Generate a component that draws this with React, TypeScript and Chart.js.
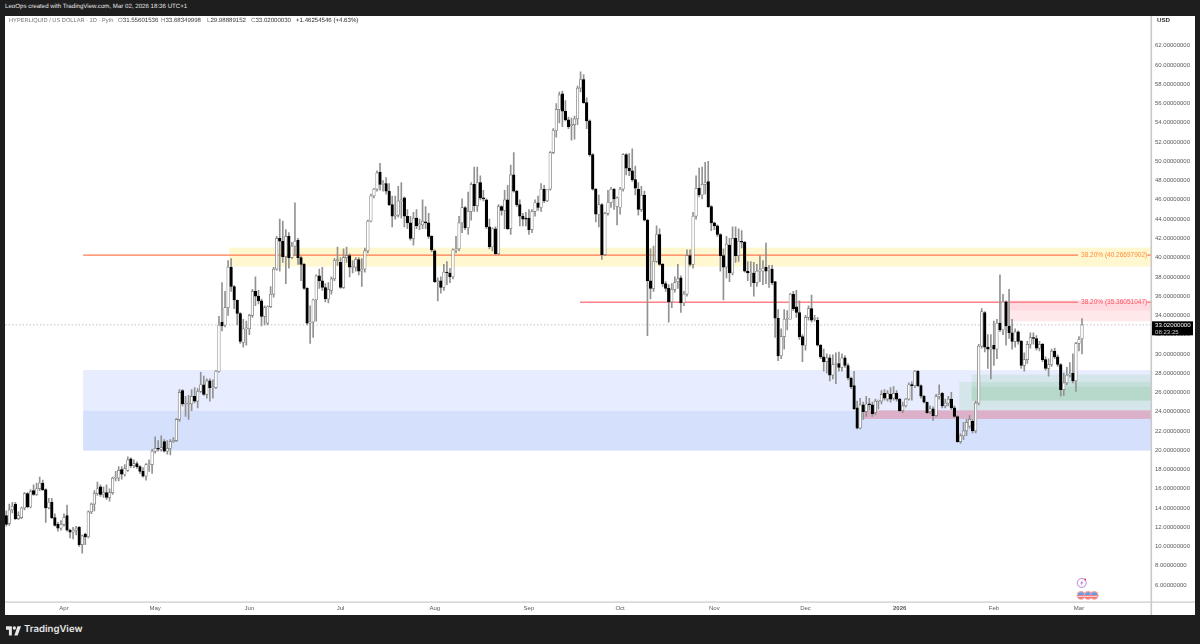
import { useEffect, useRef } from "react"
import { Chart, registerables } from "chart.js"

Chart.register(...registerables)

// daily candles, index 0 = 13 Mar 2025, last = 2 Mar 2026
const opens = [
  13.2,12.4,13.8,14.4,12.9,13.0,14.0,15.5,14.1,15.8,
  15.4,16.0,16.6,15.9,14.0,14.6,13.0,12.3,11.9,12.3,
  13.2,11.7,11.5,11.7,12.0,10.2,11.3,11.0,13.6,14.4,
  15.5,16.2,15.4,15.6,15.1,15.6,17.1,17.1,18.0,17.5,
  17.9,19.1,18.4,18.6,18.3,17.8,17.3,18.5,18.5,19.9,
  20.2,20.1,20.9,19.9,20.2,20.9,21.0,23.2,26.2,24.8,
  24.8,24.8,25.6,25.1,26.1,26.8,25.8,27.2,26.5,26.5,
  28.2,33.3,33.0,34.8,39.0,37.0,35.6,34.2,31.2,32.6,
  32.6,34.0,36.5,36.0,35.5,33.9,33.2,34.9,36.2,38.8,
  42.0,41.7,40.1,42.2,40.0,41.2,41.8,40.0,39.3,36.8,
  33.2,33.3,35.6,38.1,37.6,36.9,35.7,36.6,37.8,39.7,
  39.5,36.9,40.0,40.2,39.0,39.0,39.8,38.6,38.8,40.7,
  43.8,46.4,47.1,48.85,47.6,47.7,46.9,45.5,44.3,44.4,
  45.9,46.2,44.3,43.6,42.0,44.1,43.4,43.4,43.7,43.6,
  42.2,40.7,37.5,37.6,36.9,38.5,38.4,38.0,40.8,40.9,
  43.6,45.2,43.1,44.8,47.6,45.4,47.8,46.2,46.0,43.2,
  41.1,43.0,40.4,45.3,44.9,46.0,43.0,48.6,46.9,45.5,
  44.3,44.1,44.1,42.9,44.8,45.7,45.2,47.1,45.9,47.1,
  50.9,53.2,55.4,57.0,55.2,54.3,53.7,53.8,54.4,57.6,
  58.5,56.1,54.2,50.7,47.1,44.5,45.5,40.3,44.6,45.7,
  47.1,45.3,45.2,47.1,50.7,49.3,49.0,48.1,47.1,45.0,
  46.5,43.9,37.6,36.8,39.6,42.4,39.3,37.3,36.8,35.4,
  36.7,37.5,37.9,35.3,36.2,40.2,39.3,44.3,47.2,46.5,
  47.6,47.9,45.3,43.6,43.3,42.4,40.2,39.0,41.3,38.4,
  42.0,40.2,41.7,41.6,38.6,38.4,38.4,37.4,38.6,38.6,
  39.0,38.7,38.8,37.5,33.7,29.8,31.8,33.6,33.6,36.2,
  34.9,34.3,31.8,30.9,33.8,34.7,33.6,33.5,30.9,29.7,
  29.2,29.6,27.8,28.9,29.0,28.6,29.6,28.8,27.5,26.7,
  24.4,22.3,24.7,24.0,24.8,24.7,23.9,25.1,25.1,25.9,
  25.3,25.8,25.4,25.9,25.3,24.1,24.6,25.3,26.8,26.7,
  28.2,26.7,25.6,25.0,24.0,24.3,23.6,25.6,25.9,24.6,
  24.9,25.3,24.4,23.5,20.9,21.5,22.0,22.5,23.0,22.0,
  24.9,30.8,34.3,30.7,30.5,30.9,30.5,33.2,32.5,35.4,
  32.9,32.2,31.3,32.3,31.3,28.8,29.4,31.0,31.7,31.6,
  30.6,31.0,29.4,28.5,28.9,30.3,29.7,28.9,26.3,27.0,
  27.8,28.0,27.2,31.1,31.56,
]
const highs = [
  13.7,14.4,14.6,14.6,13.6,14.1,15.6,15.6,15.9,16.4,
  16.6,17.2,16.9,16.0,15.0,15.0,13.4,12.5,12.7,13.4,
  14.3,11.8,12.0,12.1,12.1,11.2,11.4,13.7,14.5,15.8,
  16.7,16.4,16.2,16.4,16.0,17.2,17.8,18.3,18.3,18.5,
  19.3,19.2,19.0,18.8,18.4,18.2,18.6,19.0,20.1,21.4,
  21.0,21.5,21.1,21.0,21.1,21.3,23.3,26.3,26.3,25.6,
  25.7,26.3,26.5,26.4,28.1,27.7,27.4,27.4,27.3,28.3,
  33.9,37.4,36.5,39.7,39.9,37.1,35.6,34.3,33.6,33.4,
  34.1,36.7,38.0,36.6,35.7,35.0,35.0,37.0,39.0,42.2,
  44.0,43.8,42.9,42.6,41.6,45.7,42.0,40.1,39.4,36.9,
  35.0,35.7,38.2,38.8,39.0,37.3,37.4,38.0,39.9,41.1,
  40.0,40.9,41.1,40.4,39.7,40.0,40.0,39.9,41.0,43.9,
  46.6,47.2,49.0,49.8,48.0,48.3,47.7,46.4,46.4,47.4,
  47.8,46.3,45.0,44.3,44.7,45.0,44.0,46.0,45.3,44.6,
  42.3,40.8,37.9,38.0,39.3,39.6,38.9,40.9,42.2,44.3,
  46.1,45.3,46.8,47.8,49.4,49.4,48.5,47.0,46.1,44.0,
  43.1,43.2,45.5,45.4,47.0,47.5,49.6,50.9,47.0,46.0,
  44.6,44.7,45.0,45.0,46.0,46.4,47.7,47.5,47.1,51.0,
  53.4,56.0,57.2,57.3,56.3,54.6,54.5,54.7,57.8,59.3,
  59.0,56.6,54.3,50.8,47.2,46.5,45.6,44.7,47.0,47.3,
  47.2,46.3,47.3,50.8,50.8,50.8,51.3,49.5,47.8,47.4,
  46.9,44.0,40.9,41.2,43.3,43.0,39.4,37.5,37.2,37.3,
  38.0,39.3,38.1,36.5,40.8,40.8,44.7,48.5,49.3,49.4,
  49.9,50.0,45.4,43.7,43.4,42.5,40.9,42.2,42.0,43.2,
  43.2,43.0,42.8,41.7,39.6,39.6,39.5,39.3,40.2,39.7,
  41.5,39.2,39.2,37.5,34.6,32.6,34.6,34.5,36.3,36.5,
  36.6,35.5,32.0,34.0,35.0,36.1,34.0,33.8,31.0,30.5,
  30.0,29.9,29.9,30.1,30.2,30.0,29.8,29.0,27.6,28.2,
  25.1,25.4,25.0,25.6,25.4,25.0,25.3,25.2,26.2,26.3,
  26.2,26.5,26.6,26.2,25.4,25.0,25.4,27.0,27.1,28.3,
  28.3,26.8,25.7,25.0,24.6,24.5,25.8,26.8,26.0,25.3,
  25.6,26.0,24.6,23.6,21.7,22.9,23.2,23.6,23.2,25.1,
  31.0,34.7,34.4,32.0,32.0,33.4,33.6,38.2,36.2,35.5,
  36.7,33.6,32.6,32.4,31.4,30.1,31.3,32.2,32.2,31.9,
  31.3,31.1,29.7,29.5,30.5,30.6,29.9,29.0,28.0,28.6,
  29.1,30.0,31.2,31.8,33.68,
]
const lows = [
  12.1,12.2,13.5,12.8,12.8,12.9,13.8,14.0,14.0,15.3,
  15.3,15.8,15.8,12.5,13.9,12.9,12.1,11.6,11.7,12.1,
  11.6,10.9,10.8,11.2,10.0,9.3,10.2,10.9,13.4,13.7,
  15.3,15.2,15.1,14.9,14.7,15.4,16.8,16.8,17.0,17.3,
  17.8,18.2,18.2,18.1,17.6,17.2,16.9,17.8,17.6,19.7,
  19.9,19.9,19.8,19.6,19.5,20.8,20.9,23.0,24.6,23.5,
  23.2,24.1,24.9,24.4,26.0,25.7,25.4,25.1,25.4,26.4,
  28.1,32.4,32.8,34.0,36.5,34.7,33.0,31.1,30.7,30.9,
  32.0,33.8,35.0,35.2,32.9,33.0,33.0,34.8,35.9,38.7,
  38.6,39.5,37.3,38.9,39.9,40.2,39.3,37.6,36.7,33.0,
  31.1,31.7,33.4,36.8,36.6,35.4,35.3,36.2,37.6,39.2,
  36.8,36.8,39.5,38.0,38.4,38.6,38.2,37.0,38.5,40.5,
  43.7,46.2,46.9,47.0,46.9,46.6,45.4,43.2,44.0,44.2,
  44.1,43.2,43.0,41.8,41.3,43.0,42.9,43.0,43.0,42.0,
  40.6,37.4,35.5,36.3,36.6,37.2,37.4,37.8,40.5,40.7,
  42.6,42.9,42.4,43.9,44.8,44.8,46.0,45.9,43.0,40.9,
  40.7,40.3,40.3,44.4,43.0,42.9,42.4,46.8,45.3,43.3,
  43.3,43.3,42.4,42.6,44.3,44.9,44.8,45.7,45.8,47.0,
  50.8,52.5,54.0,53.6,54.2,53.4,52.2,52.3,53.8,57.2,
  56.0,53.4,50.5,47.0,43.7,43.2,39.8,40.2,44.4,45.2,
  45.0,43.4,44.5,46.9,48.6,48.5,47.9,46.5,44.4,44.8,
  43.8,31.9,35.7,36.5,39.5,39.2,37.0,36.5,33.3,34.8,
  36.4,36.8,34.3,35.0,36.0,39.1,38.9,44.0,46.3,46.1,
  46.6,45.2,42.8,42.9,42.2,38.6,35.6,37.9,37.5,38.2,
  39.5,39.6,41.0,38.5,37.6,37.0,36.0,37.0,37.5,37.2,
  37.3,36.9,37.2,31.7,29.3,29.5,30.5,32.5,33.6,34.5,
  33.8,31.5,29.2,30.4,33.5,33.3,33.4,30.8,29.5,28.2,
  28.0,27.2,27.4,26.9,28.2,28.2,28.6,27.3,26.4,24.2,
  22.2,22.2,23.2,23.5,24.2,23.5,23.7,24.3,24.8,25.2,
  25.1,25.0,25.2,25.1,24.0,23.9,24.5,25.2,25.2,26.5,
  26.6,25.4,24.9,23.8,23.8,23.1,23.5,25.3,24.4,24.4,
  24.6,24.2,23.4,20.8,20.7,21.1,21.5,22.3,21.8,21.8,
  24.7,30.6,30.2,28.5,27.4,28.8,29.5,32.3,32.0,30.9,
  31.6,30.5,30.7,31.0,28.5,28.2,29.0,30.6,31.0,30.4,
  30.3,29.2,28.3,27.7,28.7,29.5,28.7,25.6,25.7,26.8,
  27.6,27.0,26.1,30.3,29.99,
]
const closes = [
  12.3,13.8,14.2,12.9,13.2,14.0,15.5,14.1,15.7,15.4,
  16.0,16.6,15.9,14.0,14.6,13.0,12.2,11.9,12.3,13.0,
  11.7,11.5,11.7,11.9,10.2,11.1,11.0,13.6,14.4,15.5,
  16.0,15.4,15.6,15.1,15.6,17.1,17.1,17.9,17.5,18.1,
  19.0,18.4,18.6,18.3,17.8,17.3,18.5,18.6,19.9,20.2,
  20.1,20.3,19.9,20.2,20.9,21.0,23.2,26.0,24.8,24.8,
  24.8,25.6,25.1,26.1,26.8,25.8,27.2,26.5,26.5,28.2,
  33.0,32.9,34.8,39.0,37.0,35.6,34.2,31.3,32.6,32.6,
  34.0,36.5,36.0,35.5,33.9,34.8,34.9,36.2,38.8,42.0,
  41.7,40.1,42.2,40.0,41.2,41.7,40.0,39.3,36.8,33.2,
  33.3,35.6,38.1,37.6,36.9,35.7,36.7,37.8,39.7,39.8,
  36.9,40.0,40.2,39.0,39.1,39.8,38.6,38.8,40.7,43.8,
  46.4,47.1,48.8,47.6,47.7,46.9,45.5,44.3,44.4,45.9,
  45.9,44.3,43.6,42.0,44.1,43.3,43.4,43.8,43.6,42.2,
  40.8,37.5,37.5,36.9,38.5,38.4,38.0,40.8,40.9,43.6,
  45.2,43.1,44.8,47.6,45.4,47.8,46.2,46.1,43.2,41.1,
  43.0,40.4,45.3,44.9,46.0,43.0,48.6,46.9,45.5,44.3,
  44.0,44.0,42.9,44.8,45.7,45.2,47.1,45.9,47.1,50.9,
  53.2,55.4,56.9,55.2,54.3,53.6,53.8,54.4,57.6,58.5,
  56.1,54.2,50.7,47.1,44.5,45.5,40.3,44.6,45.7,47.1,
  46.1,46.2,47.1,50.7,49.3,49.0,48.1,47.2,45.0,46.5,
  43.9,37.6,36.8,39.6,42.4,39.3,37.3,36.8,35.4,36.7,
  37.4,37.8,35.3,36.2,40.2,39.3,44.3,47.2,46.5,47.6,
  47.8,45.3,43.6,43.3,42.4,40.2,39.0,41.4,38.4,42.0,
  40.2,41.7,41.6,38.6,38.4,38.5,37.4,38.6,38.6,38.9,
  38.6,38.8,37.4,33.7,29.8,31.8,33.6,33.6,36.2,34.7,
  34.3,31.8,30.9,33.8,34.7,33.5,33.6,30.9,29.7,29.2,
  29.6,27.8,28.9,29.0,28.6,29.6,28.8,27.5,26.6,24.3,
  22.3,24.7,24.0,24.8,24.7,23.8,25.1,25.1,25.8,25.4,
  25.9,25.3,25.9,25.3,24.1,24.6,25.3,26.8,26.7,28.2,
  26.7,25.6,25.0,23.9,24.3,23.6,25.6,25.8,24.6,24.9,
  25.3,24.4,23.5,20.9,21.5,22.0,22.9,23.2,22.0,24.9,
  30.8,34.4,30.7,30.5,30.7,30.5,33.2,32.5,35.4,32.9,
  32.2,31.3,32.3,31.3,28.8,29.4,31.0,31.7,31.6,30.6,
  31.0,29.4,28.5,28.9,30.3,29.7,28.9,26.3,27.0,27.8,
  27.9,27.2,31.1,31.5,33.02,
]

const priceTicks = [6, 8, 10, 12, 14, 16, 18, 20, 22, 24, 26, 28, 30, 32, 34, 36, 38, 40, 42, 44, 46, 48, 50, 52, 54, 56, 58, 60, 62]
const monthDays = [19, 49, 80, 110, 141, 172, 202, 233, 263, 294, 325, 353]
const monthNames = ["Apr", "May", "Jun", "Jul", "Aug", "Sep", "Oct", "Nov", "Dec", "2026", "Feb", "Mar"]

const lastPrice = 33.02
const dayMin = -0.41
const dayMax = 376.7
const priceMin = 4.29
const priceMax = 65.09

// boxes on the chart: first day, low, high, colour
const zones = [
  { from: 25.3, low: 24.11, high: 28.32, color: "#e7edfe" },
  { from: 25.3, low: 19.96, high: 24.11, color: "#d4e0fc" },
  { from: 73.4, low: 39.07, high: 41.04, color: "#fff7cf" },
  { from: 328, low: 33.39, high: 35.53, color: "#ffe8ea" },
  { from: 330, low: 34.5, high: 35.53, color: "rgba(255,170,180,0.22)" },
  { from: 313.6, low: 24.1, high: 27.1, color: "rgba(70,170,80,0.11)" },
  { from: 317.7, low: 25.15, high: 27.85, color: "rgba(70,170,80,0.11)" },
  { from: 317.7, low: 25.15, high: 26.6, color: "rgba(70,170,80,0.11)" },
  { from: 282, low: 23.25, high: 24.14, color: "#dcb0c8" },
]

const levels = [
  { from: 25.3, to: 352.7, price: 40.26697902, text: "38.20% (40.26697902)", color: "#ff7a50", textColor: "#ff8c3a", width: 1.2 },
  { from: 188.8, to: 352.7, price: 35.36051047, text: "38.20% (35.36051047)", color: "#ff8088", textColor: "#ff4d5e", width: 1.4 },
]

const ohlcLegend = [
  { key: "O", value: "31.55601536", left: 118 },
  { key: "H", value: "33.68349998", left: 161 },
  { key: "L", value: "29.98889152", left: 207 },
  { key: "C", value: "33.02000030", left: 251 },
]

const sans = "'Liberation Sans', Arial, sans-serif"

const overlay = {
  id: "overlay",
  beforeDatasetsDraw(chart: any) {
    const { ctx, chartArea, scales } = chart
    ctx.save()
    ctx.beginPath()
    ctx.rect(chartArea.left, chartArea.top, chartArea.right - chartArea.left, chartArea.bottom - chartArea.top)
    ctx.clip()
    zones.forEach((z) => {
      const x = scales.x.getPixelForValue(z.from)
      const top = scales.y.getPixelForValue(z.high)
      const bottom = scales.y.getPixelForValue(z.low)
      ctx.fillStyle = z.color
      ctx.fillRect(x, top, chartArea.right - x, bottom - top)
    })
    ctx.restore()
  },
  afterDraw(chart: any) {
    const { ctx, chartArea, scales, width, height } = chart
    ctx.save()

    // axis separators
    ctx.fillStyle = "#c9c9c9"
    ctx.fillRect(chartArea.right - 0.5, 0, 1.6, height)
    ctx.fillRect(0, chartArea.bottom, width, 1.2)

    // fib labels
    ctx.font = `6.5px ${sans}`
    ctx.textBaseline = "middle"
    levels.forEach((l) => {
      ctx.fillStyle = l.textColor
      ctx.textAlign = "left"
      ctx.fillText(l.text, scales.x.getPixelForValue(l.to) + 3, scales.y.getPixelForValue(l.price))
    })

    // last price tag
    const tagY = scales.y.getPixelForValue(lastPrice)
    ctx.fillStyle = "#000"
    ctx.fillRect(chartArea.right + 1, tagY - 3.5, 41, 14)
    ctx.font = `6.1px ${sans}`
    ctx.fillStyle = "#fff"
    ctx.fillText(lastPrice.toFixed(8), chartArea.right + 4, tagY + 0.5)
    ctx.fillStyle = "#ccc"
    ctx.fillText("08:23:25", chartArea.right + 4, tagY + 7)
    ctx.fillStyle = "#333"
    ctx.font = `bold 6.2px ${sans}`
    ctx.fillText("USD", chartArea.right + 6, 4)

    // event markers
    const ex = scales.x.getPixelForValue(353.9)
    const ey = scales.y.getPixelForValue(6.22)
    ctx.beginPath()
    ctx.arc(ex, ey, 4.5, 0, Math.PI * 2)
    ctx.fillStyle = "#fff"
    ctx.fill()
    ctx.strokeStyle = "#b583d8"
    ctx.lineWidth = 1
    ctx.stroke()
    ctx.fillStyle = "#a56ad0"
    ctx.beginPath()
    ctx.moveTo(ex + 1, ey - 3)
    ctx.lineTo(ex - 1.6, ey + 0.6)
    ctx.lineTo(ex, ey + 0.4)
    ctx.lineTo(ex - 1, ey + 3)
    ctx.lineTo(ex + 1.6, ey - 0.6)
    ctx.lineTo(ex, ey - 0.4)
    ctx.closePath()
    ctx.fill()
    ctx.fillStyle = "#f0334a"
    ctx.beginPath()
    ctx.arc(ex + 3.4, ey - 3.4, 1, 0, Math.PI * 2)
    ctx.fill()

    ;[353.7, 356, 358].forEach((day) => {
      const fx = scales.x.getPixelForValue(day)
      const fy = scales.y.getPixelForValue(4.93)
      ctx.beginPath()
      ctx.arc(fx, fy, 4.4, 0, Math.PI * 2)
      ctx.fillStyle = "#f7a0a0"
      ctx.fill()
      ctx.beginPath()
      ctx.arc(fx, fy, 3.2, Math.PI, 0)
      ctx.fillStyle = "#5f9fe8"
      ctx.fill()
      ctx.beginPath()
      ctx.arc(fx, fy, 3.2, 0, Math.PI)
      ctx.fillStyle = "#f26a6a"
      ctx.fill()
      ctx.fillStyle = "#fff"
      ctx.fillRect(fx - 3, fy + 0.6, 6, 0.8)
    })
    ctx.restore()
  },
}

function CandleChart() {
  const chartRef = useRef<HTMLCanvasElement>(null)

  useEffect(() => {
    if (!chartRef.current) return

    const days = closes.map((_, i) => i)
    const chart = new Chart(chartRef.current, {
      type: "bar",
      plugins: [overlay],
      data: {
        datasets: [
          {
            type: "line",
            data: [{ x: dayMin, y: lastPrice }, { x: dayMax, y: lastPrice }],
            borderColor: "#b5b5b5",
            borderWidth: 0.8,
            borderDash: [1.5, 2],
            pointRadius: 0,
            order: 5,
          },
          ...levels.map((l) => ({
            type: "line",
            data: [
              { x: l.from, y: l.price },
              { x: l.to, y: l.price },
              { x: 375.5, y: NaN },
              { x: 375.5, y: l.price },
              { x: dayMax, y: l.price },
            ],
            borderColor: l.color,
            borderWidth: l.width,
            pointRadius: 0,
            order: 4,
          })),
          {
            data: days.map((i) => ({ x: i, y: [lows[i], highs[i]] })),
            backgroundColor: "#929292",
            barThickness: 1,
            grouped: false,
            order: 2,
          },
          {
            data: days.map((i) => ({ x: i, y: [Math.min(opens[i], closes[i]), Math.max(opens[i], closes[i])] })),
            backgroundColor: days.map((i) => (closes[i] >= opens[i] ? "#ffffff" : "#000000")),
            borderColor: days.map((i) => (closes[i] >= opens[i] ? "#757575" : "#000000")),
            borderWidth: 0.7,
            borderSkipped: false,
            barThickness: 2.6,
            minBarLength: 1,
            grouped: false,
            order: 1,
          },
        ],
      } as any,
      options: {
        animation: false,
        responsive: false,
        devicePixelRatio: 1,
        layout: { padding: 0 },
        plugins: { legend: { display: false }, tooltip: { enabled: false }, title: { display: false } },
        scales: {
          x: {
            type: "linear",
            offset: false,
            min: dayMin,
            max: dayMax,
            grid: { display: false, drawTicks: false },
            border: { display: false },
            afterFit: (s: any) => {
              s.height = 13.5
              s.paddingLeft = 0
              s.paddingRight = 0
            },
            afterBuildTicks: (s: any) => {
              s.ticks = monthDays.map((value) => ({ value }))
            },
            ticks: {
              autoSkip: false,
              maxRotation: 0,
              padding: 3,
              color: "#5a5a5a",
              font: (c: any) => ({
                family: sans,
                size: 6,
                weight: c.tick && c.tick.value === 294 ? "bold" : "normal",
              }),
              callback: (v: any) => monthNames[monthDays.indexOf(v)],
            },
          },
          y: {
            type: "linear",
            position: "right",
            min: priceMin,
            max: priceMax,
            grid: { display: false, drawTicks: false },
            border: { display: false },
            afterFit: (s: any) => {
              s.width = 44
              s.paddingTop = 0
              s.paddingBottom = 0
            },
            afterBuildTicks: (s: any) => {
              s.ticks = priceTicks.map((value) => ({ value }))
            },
            ticks: {
              autoSkip: false,
              padding: 4,
              color: "#5a5a5a",
              font: { family: sans, size: 6 },
              callback: (v: any) => Number(v).toFixed(8),
            },
          },
        },
      } as any,
    })

    return () => chart.destroy()
  }, [])

  return <canvas ref={chartRef} width={1190} height={599} style={{ display: "block", background: "#fff" }} />
}

export default function App() {
  const abs = (left: number, top: number, size: number, color: string): React.CSSProperties => ({
    position: "absolute",
    left,
    top,
    fontSize: size,
    lineHeight: "10px",
    color,
    whiteSpace: "nowrap",
  })

  return (
    <div style={{ position: "fixed", left: 0, top: 0, width: 1200, height: 644, background: "#1e1e1e", fontFamily: sans, overflow: "hidden", textRendering: "geometricPrecision" }}>
      <span style={abs(5, 2, 6.13, "#e4e4e4")}>LeoOps created with TradingView.com, Mar 02, 2026 18:36 UTC+1</span>
      <div style={{ position: "absolute", left: 5, top: 16 }}>
        <CandleChart />
      </div>
      <span style={abs(9, 15.5, 5.7, "#777")}>HYPERLIQUID / US DOLLAR · 1D · Pyth</span>
      {ohlcLegend.map((o) => (
        <span key={o.key} style={abs(o.left, 15.5, 6.1, "#333")}>
          <span style={{ color: "#777" }}>{o.key}</span>
          {o.value}
        </span>
      ))}
      <span style={abs(296, 15.5, 6.1, "#222")}>+1.46254546 (+4.63%)</span>
      <svg style={{ position: "absolute", left: 6, top: 625 }} width="15" height="11" viewBox="0 0 36 26">
        <path d="M14 3H0v8h7v14h7V3Z" fill="#e8e8e8" />
        <circle cx="20" cy="7" r="4" fill="#e8e8e8" />
        <path d="M28 25h-8l7.5-22H36L28 25Z" fill="#e8e8e8" />
      </svg>
      <span style={{ ...abs(24, 622, 9.6, "#e8e8e8"), lineHeight: "16px", fontFamily: "Inter", fontWeight: 600 }}>TradingView</span>
    </div>
  )
}
